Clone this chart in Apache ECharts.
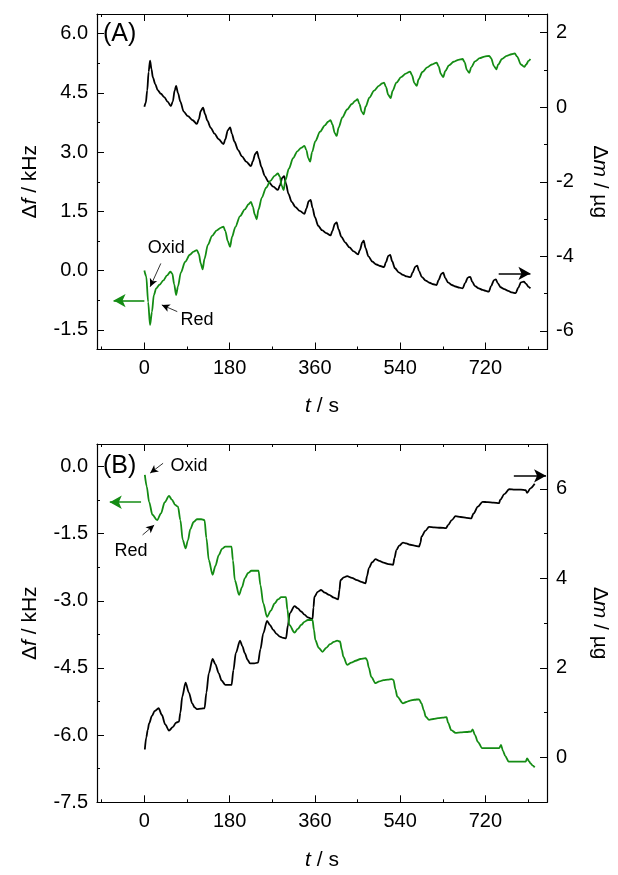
<!DOCTYPE html>
<html><head><meta charset="utf-8">
<script src="https://cdn.jsdelivr.net/npm/echarts@6/dist/echarts.min.js"></script>
<style>html,body{margin:0;padding:0;background:#fff}#c{width:618px;height:875px}</style>
</head><body><div id="c"></div>
<script>
// ---- Data (t in s) ----
const tTicks = [0, 180, 360, 540, 720];
const tMinor = [-90, 90, 270, 450, 630, 810];
const fTicksA = [-1.5, 0, 1.5, 3, 4.5, 6];
const fMinorA = [-0.75, 0.75, 2.25, 3.75, 5.25];
const mTicksA = [-6, -4, -2, 0, 2];
const mMinorA = [-5, -3, -1, 1];
const fTicksB = [-7.5, -6, -4.5, -3, -1.5, 0];
const fMinorB = [-6.75, -5.25, -3.75, -2.25, -0.75];
const mTicksB = [0, 2, 4, 6];
const mMinorB = [1, 3, 5];

// Panel A: frequency change (kHz, left axis)
const greenA = [[0,0.00],[4,-0.15],[8,-0.80],[12,-1.38],[16,-1.05],[20,-0.62],[25,-0.45],[32,-0.36],[40,-0.25],[48,-0.12],[55,-0.03],[59,-0.08],[63,-0.35],[67,-0.62],[71,-0.40],[77,-0.05],[86,0.22],[96,0.40],[104,0.48],[111,0.52],[115,0.42],[119,0.18],[123,0.03],[127,0.30],[134,0.65],[143,0.88],[153,1.02],[162,1.09],[167,1.11],[171,1.00],[176,0.75],[181,0.60],[185,0.85],[192,1.10],[202,1.38],[212,1.55],[220,1.68],[225,1.74],[229,1.62],[233,1.42],[237,1.30],[241,1.55],[248,1.85],[257,2.10],[266,2.27],[275,2.40],[282,2.46],[286,2.38],[290,2.15],[294,2.04],[298,2.30],[305,2.58],[314,2.85],[323,3.02],[331,3.11],[338,3.16],[342,3.05],[346,2.85],[350,2.76],[354,3.00],[361,3.28],[371,3.52],[381,3.68],[388,3.77],[393,3.81],[397,3.70],[402,3.48],[406,3.41],[410,3.62],[418,3.88],[428,4.08],[438,4.22],[445,4.30],[450,4.34],[454,4.22],[459,4.02],[463,3.96],[467,4.15],[475,4.38],[485,4.56],[495,4.68],[502,4.74],[506,4.76],[510,4.65],[515,4.45],[520,4.37],[524,4.55],[532,4.76],[542,4.90],[552,4.99],[561,5.04],[565,4.95],[570,4.75],[575,4.68],[579,4.85],[587,5.03],[597,5.15],[607,5.22],[617,5.27],[621,5.18],[626,4.98],[631,4.90],[635,5.05],[643,5.20],[653,5.29],[663,5.34],[672,5.36],[676,5.28],[681,5.08],[686,5.01],[690,5.15],[698,5.30],[708,5.38],[718,5.42],[728,5.44],[732,5.38],[738,5.18],[743,5.10],[747,5.22],[755,5.36],[765,5.44],[775,5.48],[782,5.50],[787,5.42],[795,5.22],[802,5.16],[806,5.22],[811,5.31],[815,5.36]];
// Panel A: mass change (ug, right axis)
const blackA = [[0,0.01],[3,0.12],[6,0.45],[9,0.95],[12,1.25],[15,1.02],[18,0.80],[23,0.62],[28,0.46],[35,0.36],[42,0.27],[49,0.15],[56,0.03],[60,0.15],[64,0.45],[67,0.57],[71,0.38],[76,0.15],[83,-0.12],[92,-0.24],[102,-0.35],[111,-0.45],[115,-0.32],[119,-0.10],[124,-0.01],[128,-0.18],[133,-0.36],[140,-0.55],[148,-0.71],[157,-0.86],[167,-0.99],[171,-0.86],[176,-0.62],[181,-0.54],[185,-0.72],[190,-0.92],[198,-1.15],[206,-1.32],[215,-1.46],[225,-1.58],[229,-1.45],[234,-1.25],[238,-1.19],[242,-1.38],[247,-1.60],[254,-1.84],[262,-2.00],[272,-2.13],[282,-2.22],[286,-2.10],[291,-1.90],[295,-1.85],[299,-2.05],[304,-2.32],[311,-2.54],[319,-2.68],[328,-2.78],[338,-2.86],[342,-2.72],[347,-2.52],[351,-2.49],[355,-2.70],[360,-2.95],[367,-3.18],[375,-3.30],[384,-3.38],[393,-3.44],[397,-3.32],[402,-3.13],[406,-3.09],[410,-3.28],[416,-3.48],[424,-3.63],[433,-3.76],[442,-3.87],[451,-3.95],[455,-3.83],[460,-3.63],[463,-3.58],[467,-3.78],[473,-4.00],[481,-4.14],[490,-4.22],[498,-4.26],[506,-4.29],[510,-4.16],[515,-3.99],[519,-3.96],[523,-4.13],[529,-4.32],[537,-4.43],[546,-4.50],[554,-4.54],[562,-4.56],[566,-4.44],[572,-4.28],[576,-4.25],[580,-4.40],[586,-4.56],[594,-4.65],[602,-4.71],[610,-4.75],[617,-4.77],[621,-4.64],[627,-4.47],[631,-4.44],[635,-4.58],[641,-4.70],[649,-4.77],[657,-4.81],[665,-4.84],[672,-4.86],[677,-4.72],[683,-4.57],[688,-4.55],[692,-4.68],[698,-4.80],[706,-4.86],[714,-4.90],[721,-4.93],[727,-4.95],[732,-4.80],[738,-4.64],[742,-4.62],[746,-4.72],[752,-4.83],[760,-4.88],[768,-4.93],[776,-4.97],[784,-4.99],[789,-4.85],[795,-4.70],[801,-4.68],[806,-4.74],[811,-4.82],[815,-4.86]];

// Panel B: frequency change (kHz, left axis)
const greenB = [[1,-0.19],[5,-0.45],[10,-0.79],[17,-1.08],[27,-1.20],[35,-1.05],[43,-0.80],[52,-0.66],[58,-0.74],[65,-0.86],[71,-0.90],[76,-1.20],[81,-1.64],[87,-1.83],[92,-1.65],[97,-1.40],[104,-1.24],[111,-1.18],[120,-1.18],[127,-1.20],[131,-1.60],[136,-2.09],[144,-2.42],[150,-2.22],[157,-1.98],[164,-1.84],[171,-1.79],[184,-1.79],[187,-2.10],[191,-2.54],[200,-2.87],[206,-2.70],[212,-2.50],[219,-2.38],[226,-2.33],[241,-2.33],[245,-2.65],[251,-3.06],[259,-3.36],[267,-3.22],[275,-3.06],[282,-2.97],[289,-2.92],[299,-2.92],[302,-3.20],[306,-3.54],[317,-3.71],[324,-3.63],[331,-3.54],[338,-3.47],[345,-3.43],[355,-3.43],[358,-3.65],[361,-3.88],[368,-4.05],[376,-4.14],[384,-4.05],[392,-3.97],[400,-3.92],[407,-3.89],[413,-3.91],[417,-4.10],[420,-4.25],[428,-4.43],[437,-4.38],[446,-4.34],[456,-4.30],[467,-4.28],[470,-4.32],[474,-4.50],[479,-4.70],[488,-4.84],[496,-4.80],[505,-4.77],[514,-4.76],[522,-4.75],[526,-4.77],[530,-4.98],[534,-5.14],[546,-5.29],[553,-5.26],[561,-5.23],[570,-5.21],[580,-5.20],[585,-5.29],[590,-5.45],[594,-5.59],[601,-5.66],[610,-5.64],[620,-5.62],[630,-5.61],[638,-5.60],[641,-5.72],[648,-5.89],[657,-5.95],[668,-5.94],[680,-5.93],[690,-5.92],[693,-5.87],[698,-6.00],[704,-6.15],[713,-6.29],[725,-6.29],[737,-6.29],[749,-6.29],[753,-6.22],[757,-6.35],[762,-6.47],[769,-6.59],[780,-6.59],[792,-6.59],[805,-6.59],[808,-6.52],[812,-6.58],[815,-6.63],[820,-6.68],[824,-6.72]];
// Panel B: mass change (ug, right axis)
const blackB = [[1,0.18],[4,0.45],[7,0.61],[10,0.76],[16,0.93],[22,1.04],[30,1.10],[37,0.95],[44,0.74],[52,0.60],[60,0.68],[67,0.78],[73,0.80],[76,1.00],[80,1.36],[87,1.67],[94,1.45],[101,1.21],[106,1.12],[111,1.08],[120,1.09],[127,1.10],[131,1.45],[136,1.88],[144,2.20],[150,2.08],[157,1.88],[163,1.72],[171,1.62],[184,1.62],[188,1.95],[193,2.33],[202,2.61],[207,2.48],[212,2.33],[218,2.18],[223,2.10],[232,2.10],[240,2.12],[245,2.42],[251,2.77],[259,3.05],[265,2.96],[272,2.85],[279,2.76],[286,2.70],[293,2.67],[299,2.66],[303,2.95],[307,3.22],[317,3.38],[324,3.33],[331,3.26],[338,3.19],[345,3.13],[355,3.09],[357,3.35],[359,3.59],[366,3.70],[373,3.74],[381,3.68],[390,3.63],[400,3.57],[409,3.53],[412,3.75],[414,3.96],[421,4.02],[428,4.05],[438,4.01],[449,3.96],[458,3.92],[467,3.89],[470,4.05],[474,4.23],[481,4.36],[488,4.43],[496,4.39],[505,4.35],[515,4.32],[525,4.30],[528,4.45],[532,4.63],[538,4.73],[546,4.80],[553,4.78],[561,4.75],[570,4.73],[580,4.71],[583,4.80],[585,4.93],[593,5.06],[601,5.15],[612,5.14],[625,5.13],[637,5.12],[641,5.19],[649,5.30],[657,5.39],[668,5.37],[680,5.35],[690,5.34],[695,5.45],[704,5.60],[714,5.71],[725,5.70],[737,5.69],[749,5.68],[751,5.75],[760,5.88],[770,5.99],[782,5.98],[795,5.98],[805,5.97],[808,5.91],[815,6.01],[824,6.11]];

// ---- Styling ----
const FONT = '"Liberation Sans", Arial, Helvetica, sans-serif';
const GREEN = '#148c14';
const TICKFS = 20, TITLEFS = 21;
const XMIN = -100, XMAX = 850;

function xAxis(gi, pos, labels, gap) {
  return {
    type: 'value', gridIndex: gi, position: pos, min: XMIN, max: XMAX,
    axisLine: {show: true, onZero: false, lineStyle: {color: '#000', width: 1.2}},
    axisTick: {show: true, inside: true, length: 7, customValues: tTicks, lineStyle: {color: '#000', width: 1}},
    axisLabel: {show: labels, customValues: tTicks, fontSize: TICKFS, fontFamily: FONT, color: '#000', margin: 9},
    splitLine: {show: false},
    name: labels ? '{i|t} / s' : '', nameLocation: 'middle', nameGap: gap || 0,
    nameTextStyle: {fontSize: TITLEFS, fontFamily: FONT, color: '#000',
      rich: {i: {fontStyle: 'italic', fontSize: TITLEFS, fontFamily: FONT, color: '#000'}}}
  };
}
function yAxis(gi, pos, min, max, ticks, dec, name, rot, gap) {
  return {
    type: 'value', gridIndex: gi, position: pos, min: min, max: max,
    axisLine: {show: true, onZero: false, lineStyle: {color: '#000', width: 1.2}},
    axisTick: {show: true, inside: true, length: 7, customValues: ticks, lineStyle: {color: '#000', width: 1}},
    axisLabel: {show: true, customValues: ticks, fontSize: TICKFS, fontFamily: FONT, color: '#000', margin: 9,
      formatter: v => dec ? v.toFixed(1) : String(Math.round(v))},
    splitLine: {show: false},
    name: name, nameLocation: 'middle', nameRotate: rot, nameGap: gap,
    nameTextStyle: {fontSize: TITLEFS, fontFamily: FONT, color: '#000',
      rich: {i: {fontStyle: 'italic', fontSize: TITLEFS, fontFamily: FONT, color: '#000'}}}
  };
}
// minor-tick-only axes
function minorX(gi, pos) {
  return {type: 'value', gridIndex: gi, position: pos, min: XMIN, max: XMAX,
    axisLine: {show: false, onZero: false}, axisLabel: {show: false}, splitLine: {show: false},
    axisTick: {show: true, inside: true, length: 3, customValues: tMinor, lineStyle: {color: '#000', width: 1}}};
}
function minorY(gi, pos, min, max, ticks) {
  return {type: 'value', gridIndex: gi, position: pos, min: min, max: max,
    axisLine: {show: false, onZero: false}, axisLabel: {show: false}, splitLine: {show: false},
    axisTick: {show: true, inside: true, length: 3, customValues: ticks, lineStyle: {color: '#000', width: 1}}};
}

function line(data, xi, yi, color, marks) {
  const s = {
    type: 'line', xAxisIndex: xi, yAxisIndex: yi, data: data, showSymbol: false,
    smooth: 0.3, smoothMonotone: 'x',
    lineStyle: {color: color, width: 1.8}, itemStyle: {color: color}, z: 3
  };
  if (marks) Object.assign(s, marks);
  return s;
}

function arrowItem(from, to, color, width, size) {
  return [
    {coord: from, symbol: 'none', lineStyle: {color: color, width: width, type: 'solid'}},
    {coord: to, symbol: 'arrow', symbolSize: size}
  ];
}
function textItem(coord, text) {
  return {coord: coord, symbol: 'circle', symbolSize: 0.01, itemStyle: {color: 'rgba(0,0,0,0)'},
    label: {show: true, position: 'inside', formatter: text, fontSize: 18, fontFamily: FONT, color: '#000'}};
}
function marks(lines, texts) {
  return {
    markLine: {silent: true, animation: false, symbol: ['none', 'arrow'], label: {show: false},
      emphasis: {disabled: true}, data: lines},
    markPoint: {silent: true, animation: false, data: texts || []}
  };
}

const option = {
  animation: false,
  backgroundColor: '#fff',
  grid: [
    {left: 97, top: 14, width: 456, height: 335.5},
    {left: 97, top: 444, width: 456, height: 358.3}
  ],
  xAxis: [
    xAxis(0, 'bottom', true, 46),
    xAxis(0, 'top', false),
    xAxis(1, 'bottom', true, 47),
    xAxis(1, 'top', false),
    minorX(0, 'bottom'), minorX(0, 'top'), minorX(1, 'bottom'), minorX(1, 'top')
  ],
  yAxis: [
    yAxis(0, 'left', -2, 6.5, fTicksA, true, 'Δ{i|f} / kHz', 90, 56),
    yAxis(0, 'right', -6.5, 2.5, mTicksA, false, 'Δ{i|m} / µg', -90, 42),
    yAxis(1, 'left', -7.5, 0.5, fTicksB, true, 'Δ{i|f} / kHz', 90, 56),
    yAxis(1, 'right', -1, 7, mTicksB, false, 'Δ{i|m} / µg', -90, 42),
    minorY(0, 'left', -2, 6.5, fMinorA), minorY(0, 'right', -6.5, 2.5, mMinorA),
    minorY(1, 'left', -7.5, 0.5, fMinorB), minorY(1, 'right', -1, 7, mMinorB)
  ],
  graphic: [
    {type: 'text', left: 103, top: 22, style: {text: '(A)', font: '25px ' + FONT, fill: '#000'}},
    {type: 'text', left: 103, top: 454, style: {text: '(B)', font: '25px ' + FONT, fill: '#000'}}
  ],
  series: [
    line(blackA, 0, 1, '#000', marks([
      arrowItem([748, -4.46], [815, -4.46], '#000', 1.6, [10, 12])
    ])),
    line(greenA, 0, 0, GREEN, marks([
      arrowItem([0, -0.76], [-65, -0.76], GREEN, 1.6, [10, 12]),
      arrowItem([34.7, 0.18], [12.3, -0.41], '#000', 0.8, [6, 8]),
      arrowItem([69.4, -1.04], [36.8, -0.87], '#000', 0.8, [6, 8])
    ], [textItem([46.4, 0.56], 'Oxid'), textItem([111, -1.25], 'Red')])),
    line(blackB, 2, 3, '#000', marks([
      arrowItem([780, 6.29], [848, 6.29], '#000', 1.6, [10, 12])
    ])),
    line(greenB, 2, 2, GREEN, marks([
      arrowItem([-7, -0.80], [-73, -0.80], GREEN, 1.6, [10, 12]),
      arrowItem([39.5, 0.07], [12.3, -0.15], '#000', 0.8, [6, 8]),
      arrowItem([-3.8, -1.53], [20.7, -1.31], '#000', 0.8, [6, 8])
    ], [textItem([94, 0.0], 'Oxid'), textItem([-28, -1.90], 'Red')]))
  ]
};

const chart = echarts.init(document.getElementById('c'), null, {renderer: 'canvas'});
chart.setOption(option);
</script></body></html>
